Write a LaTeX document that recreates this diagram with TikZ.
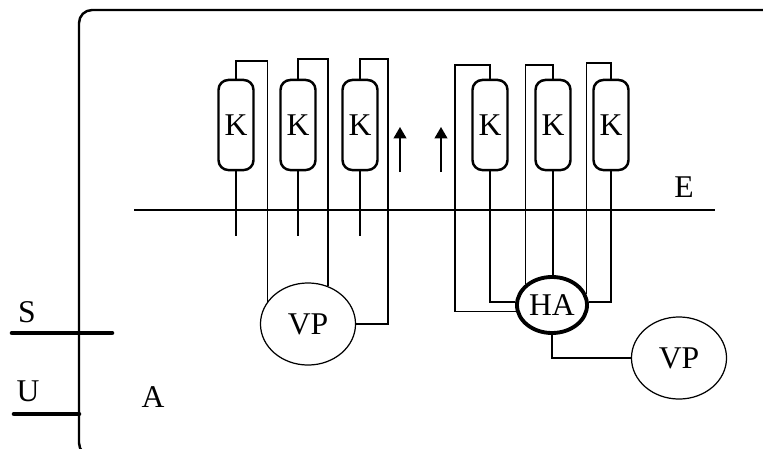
\documentclass[tikz,border=0pt]{standalone}
\usepackage{fontspec}
\setmainfont{Liberation Serif}
\usetikzlibrary{shapes.geometric,arrows.meta}
\tikzset{
  kbox/.style={draw,line width=.7pt,rounded corners=2.8pt,minimum width=.35cm,minimum height=.9cm,inner sep=0pt},
  vpnode/.style={draw,ellipse,line width=.35pt,minimum width=.95cm,minimum height=.82cm,inner sep=0pt},
  hanode/.style={draw,ellipse,line width=1.1pt,minimum width=.7cm,minimum height=.56cm,inner sep=0pt},
  wire/.style={line width=.45pt},
  lead/.style={line width=1.3pt,line cap=round},
}
\begin{document}
\begin{tikzpicture}[x=.01cm,y=-.01cm,font=\fontsize{9}{10}\selectfont]
    \useasboundingbox (0,0) rectangle (763,448);
    \clip (0,0) rectangle (763,448);
    \draw[line width=.7pt,rounded corners=3.7pt] (79,10) rectangle (800,456); % housing
    \draw[line width=.7pt] (134,210) -- (715,210); % plane E
    \node (E) at (684,187) {E};
    \draw[lead] (12,333) -- (112,333) % S
                (14,414) -- (79,414); % U
    \node (S) at (27,312) {S};
    \node (U) at (28,391) {U};
    \node (A) at (153,397) {A};
    \foreach \name/\x in {K1/236,K2/298,K3/360,K4/490,K5/553,K6/611}
        \node[kbox] (\name) at (\x,125) {K};
    \node[vpnode] (VP1) at (308,324) {VP};
    \node[hanode] (HA) at (552,305) {HA};
    \node[vpnode] (VP2) at (679,358) {VP};
    % left group, into VP1
    \draw[wire] (K1.north) -- ++(0,-18) -| (VP1.151);
    \draw[wire] (K2.north) -- ++(0,-20) -| (VP1.62);
    \draw[wire] (K3.north) -- ++(0,-20) -- ++(28,0) |- (VP1.east);
    \foreach \name in {K1,K2,K3}
        \draw[wire] (\name.south) -- ++(0,65);
    % right group, into HA
    \draw[wire] (K4.north) -- ++(0,-14) -| (455,0 |- HA.190) -- (HA.190);
    \draw[wire] (K4.south) |- (HA.175);
    \draw[wire] (K5.north) -- ++(0,-14) -| (HA.142);
    \draw[wire] (K5.south) -- (K5.south |- HA.north);
    \draw[wire] (K6.north) -- ++(0,-16) -| (HA.18);
    \draw[wire] (K6.south) |- (HA.5);
    \draw[line width=.8pt] (HA.south) |- (VP2.west);
    % arrows between the groups
    \foreach \x in {400,441}
        \draw[wire,-{Triangle[length=3.2pt,width=3.6pt]}] (\x,172) -- (\x,127);
\end{tikzpicture}
\end{document}
